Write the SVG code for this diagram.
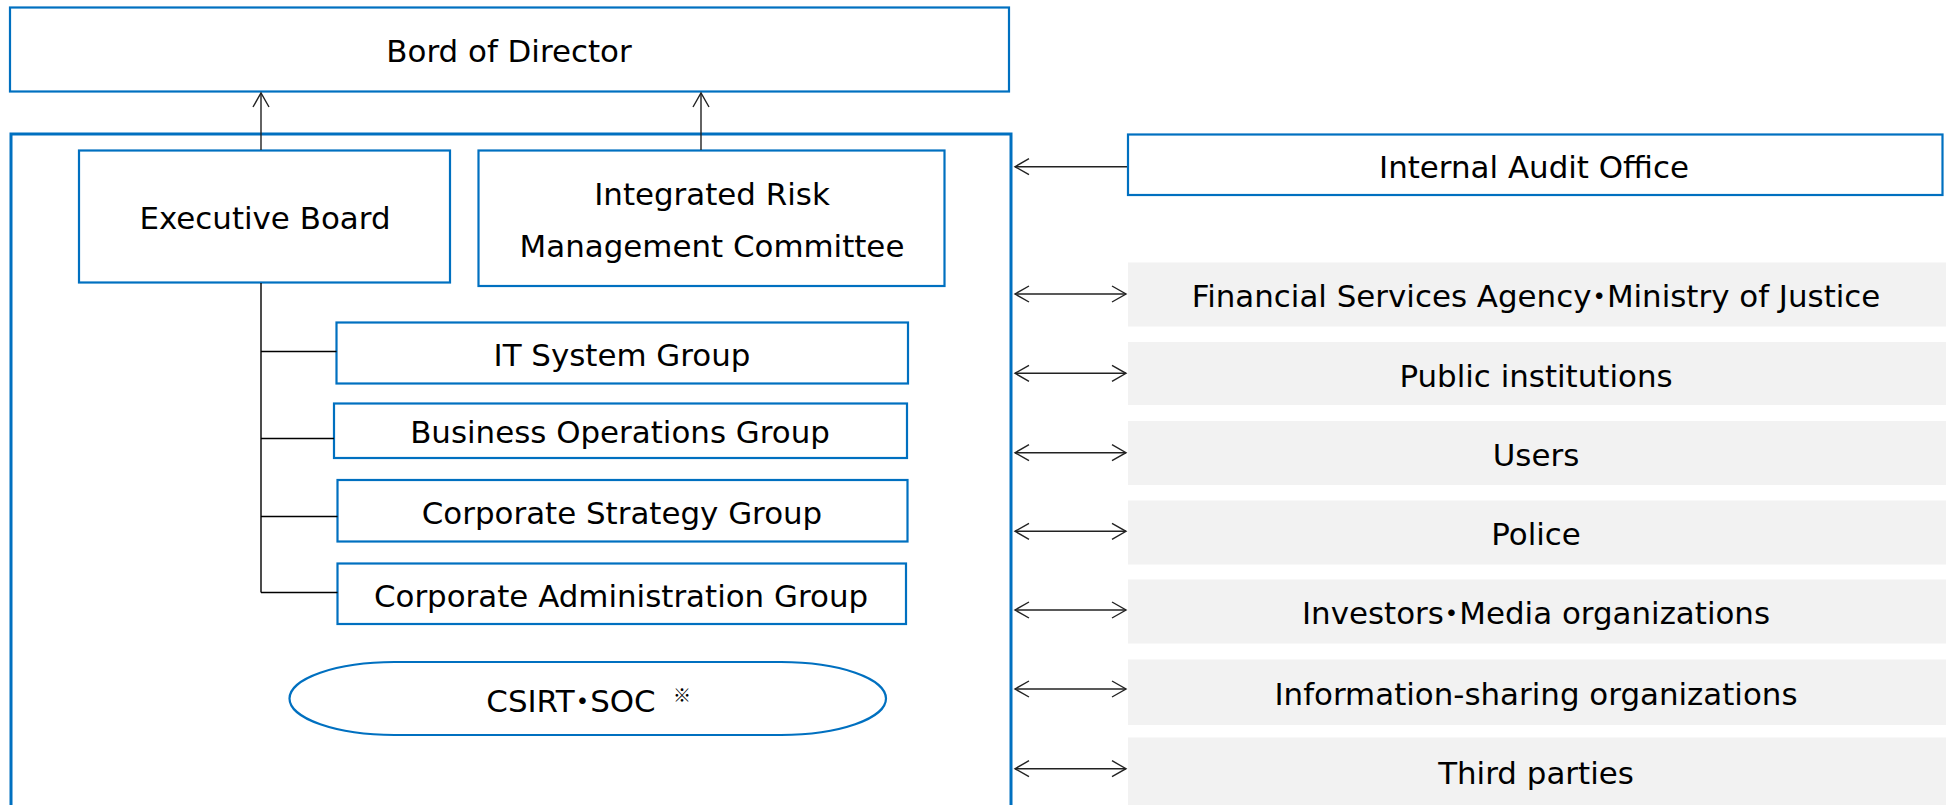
<svg xmlns="http://www.w3.org/2000/svg" width="1946" height="805" viewBox="0 0 1946 805">
<defs>
<style>
.box{fill:#fff;stroke:#0070C0;stroke-width:2.2}
.outer{fill:#fff;stroke:#0070C0;stroke-width:3}
.ext{fill:#F2F2F2;stroke:none}
.t{font-family:"DejaVu Sans","Noto Sans CJK JP",sans-serif;font-size:30.9px;fill:#000;text-anchor:middle}
.dot{font-family:"Noto Sans CJK JP",sans-serif;font-feature-settings:"palt"}
.ln{fill:none;stroke:#000;stroke-width:1.4}
.ar{fill:none;stroke:#222;stroke-width:1.4}
</style>
<marker id="a" markerWidth="20" markerHeight="20" refX="0" refY="0" orient="auto-start-reverse" markerUnits="userSpaceOnUse" overflow="visible">
<path d="M-14,-8 L0,0 L-14,8" fill="none" stroke="#222" stroke-width="1.4"/>
</marker>
</defs>

<g id="outer-frame"><rect class="outer" x="11" y="134" width="1000" height="675"/></g>

<g id="board"><rect class="box" x="10" y="7.5" width="999" height="84"/><text class="t" x="509" y="62">Bord of Director</text></g>

<g id="executive-board"><rect class="box" x="79" y="150.5" width="371" height="132"/><text class="t" x="265" y="229">Executive Board</text></g>

<g id="irmc"><rect class="box" x="478.5" y="150.5" width="466" height="135.5"/><text class="t" x="712" y="205">Integrated Risk</text><text class="t" x="712" y="257">Management Committee</text></g>

<g id="it-system"><rect class="box" x="336.5" y="322.5" width="571.5" height="61"/><text class="t" x="622" y="366">IT System Group</text></g>

<g id="business-ops"><rect class="box" x="334" y="403.5" width="573" height="54.5"/><text class="t" x="620" y="442.5">Business Operations Group</text></g>

<g id="corp-strategy"><rect class="box" x="337.5" y="480" width="570" height="61.5"/><text class="t" x="622" y="523.5">Corporate Strategy Group</text></g>

<g id="corp-admin"><rect class="box" x="337.5" y="563.5" width="568.5" height="60.5"/><text class="t" x="621" y="606.5">Corporate Administration Group</text></g>

<g id="csirt"><rect class="box" x="289.5" y="662" width="596.5" height="73" rx="105" ry="36.5"/><text class="t" x="571" y="711.5">CSIRT<tspan class="dot">・</tspan>SOC</text><text class="t" x="682" y="702" style="font-size:18px;font-family:'Noto Sans CJK JP',sans-serif">※</text></g>

<g id="internal-audit"><rect class="box" x="1128" y="134.5" width="814.5" height="60.5"/><text class="t" x="1534" y="177.5">Internal Audit Office</text></g>

<g id="fsa"><rect class="ext" x="1128" y="262.5" width="818" height="64"/><text class="t" x="1536" y="306.5">Financial Services Agency<tspan class="dot">・</tspan>Ministry of Justice</text></g>
<g id="public"><rect class="ext" x="1128" y="342" width="818" height="63"/><text class="t" x="1536" y="386.5">Public institutions</text></g>
<g id="users"><rect class="ext" x="1128" y="421" width="818" height="64"/><text class="t" x="1536" y="466">Users</text></g>
<g id="police"><rect class="ext" x="1128" y="500.5" width="818" height="64"/><text class="t" x="1536" y="545">Police</text></g>
<g id="investors"><rect class="ext" x="1128" y="579.5" width="818" height="64"/><text class="t" x="1536" y="624">Investors<tspan class="dot">・</tspan>Media organizations</text></g>
<g id="info-sharing"><rect class="ext" x="1128" y="659.5" width="818" height="65.5"/><text class="t" x="1536" y="705">Information-sharing organizations</text></g>
<g id="third"><rect class="ext" x="1128" y="737.5" width="818" height="70"/><text class="t" x="1536" y="784">Third parties</text></g>

<g id="connectors">
<line class="ar" x1="261" y1="150" x2="261" y2="93" marker-end="url(#a)"/>
<line class="ar" x1="701" y1="150" x2="701" y2="93" marker-end="url(#a)"/>
<path class="ln" d="M261,283 V592.5 M261,351.5 H336.5 M261,438.5 H334 M261,516.5 H337.5 M261,592.5 H337.5"/>
<line class="ar" x1="1127" y1="166.7" x2="1015" y2="166.7" marker-end="url(#a)"/>
<line class="ar" x1="1015" y1="294" x2="1126" y2="294" marker-start="url(#a)" marker-end="url(#a)"/>
<line class="ar" x1="1015" y1="373.3" x2="1126" y2="373.3" marker-start="url(#a)" marker-end="url(#a)"/>
<line class="ar" x1="1015" y1="452.7" x2="1126" y2="452.7" marker-start="url(#a)" marker-end="url(#a)"/>
<line class="ar" x1="1015" y1="531.3" x2="1126" y2="531.3" marker-start="url(#a)" marker-end="url(#a)"/>
<line class="ar" x1="1015" y1="610" x2="1126" y2="610" marker-start="url(#a)" marker-end="url(#a)"/>
<line class="ar" x1="1015" y1="689" x2="1126" y2="689" marker-start="url(#a)" marker-end="url(#a)"/>
<line class="ar" x1="1015" y1="768.7" x2="1126" y2="768.7" marker-start="url(#a)" marker-end="url(#a)"/>
</g>
</svg>
